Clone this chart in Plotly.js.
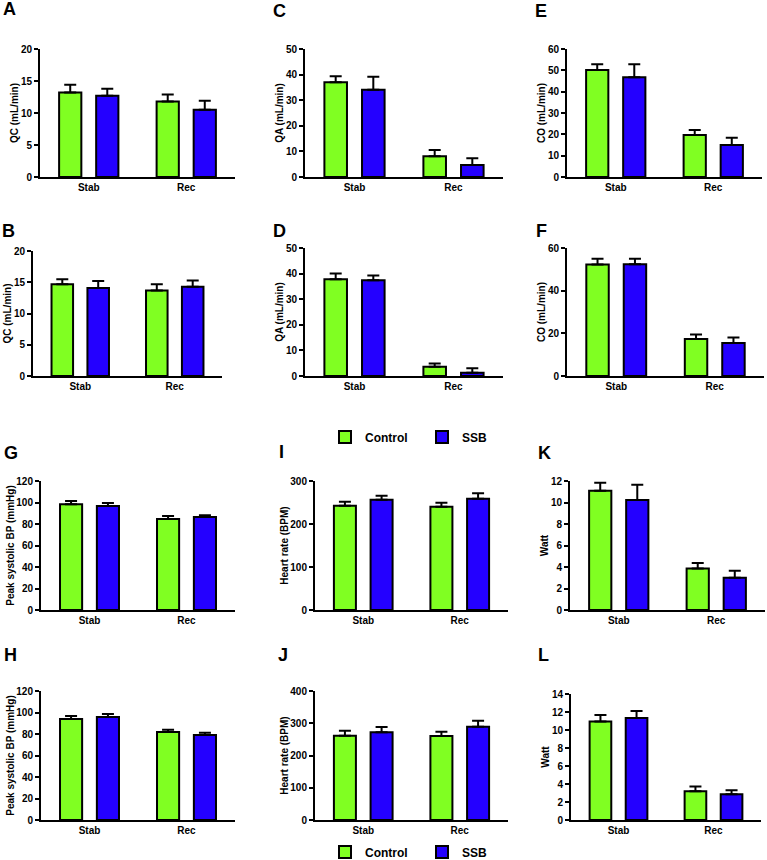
<!DOCTYPE html>
<html>
<head>
<meta charset="utf-8">
<script src="https://cdn.plot.ly/plotly-3.0.1.min.js"></script>
<style>
  body { margin: 0; background: #ffffff; }
  #chart { width: 767px; height: 860px; }
</style>
</head>
<body>
<div id="chart"></div>
<script>
// groups and series
const categories = ["Stab", "Rec"];
const seriesNames = ["Control", "SSB"];

// A / B : QC
const qcA_control = [13.2, 11.8];
const qcA_controlSem = [1.2, 1.1];
const qcA_ssb = [12.7, 10.5];
const qcA_ssbSem = [1.1, 1.4];
const qcB_control = [14.7, 13.7];
const qcB_controlSem = [0.8, 1.0];
const qcB_ssb = [14.1, 14.3];
const qcB_ssbSem = [1.1, 1.0];

// C / D : QA
const qaC_control = [37.0, 8.1];
const qaC_controlSem = [2.4, 2.4];
const qaC_ssb = [34.1, 4.7];
const qaC_ssbSem = [5.1, 2.6];
const qaD_control = [37.8, 3.6];
const qaD_controlSem = [2.2, 1.3];
const qaD_ssb = [37.4, 1.3];
const qaD_ssbSem = [1.9, 1.7];

// E / F : CO
const coE_control = [50.2, 19.7];
const coE_controlSem = [2.6, 2.3];
const coE_ssb = [46.7, 15.0];
const coE_ssbSem = [6.1, 3.4];
const coF_control = [52.3, 17.3];
const coF_controlSem = [2.7, 2.2];
const coF_ssb = [52.4, 15.5];
const coF_ssbSem = [2.6, 2.6];

// G / H : peak systolic BP
const bpG_control = [98.3, 84.7];
const bpG_controlSem = [3.1, 2.7];
const bpG_ssb = [96.7, 86.5];
const bpG_ssbSem = [2.8, 1.6];
const bpH_control = [94.0, 81.9];
const bpH_controlSem = [2.7, 2.1];
const bpH_ssb = [95.8, 79.1];
const bpH_ssbSem = [2.8, 2.1];

// I / J : heart rate
const hrI_control = [242.6, 240.3];
const hrI_controlSem = [9.3, 9.3];
const hrI_ssb = [256.6, 258.9];
const hrI_ssbSem = [9.3, 12.4];
const hrJ_control = [261.5, 260.5];
const hrJ_controlSem = [15.5, 13.4];
const hrJ_ssb = [271.8, 289.4];
const hrJ_ssbSem = [16.6, 18.6];

// K / L : watt
const wK_control = [11.1, 3.85];
const wK_controlSem = [0.74, 0.52];
const wK_ssb = [10.23, 3.0];
const wK_ssbSem = [1.43, 0.66];
const wL_control = [10.95, 3.2];
const wL_controlSem = [0.71, 0.51];
const wL_ssb = [11.33, 2.86];
const wL_ssbSem = [0.77, 0.44];

const W = 767, H = 860;
const GREEN = "#80ff22";
const BLUE = "#2400ff";
const FONT = "Arial, 'Liberation Sans', sans-serif";

const px2x = (p) => p / W;
const px2y = (p) => 1 - p / H;

const traces = [];
const annotations = [];

function legendAt(yPx) {
  return {
    orientation: "h",
    x: px2x(325), y: px2y(yPx),
    xanchor: "left", yanchor: "middle",
    font: { family: FONT, size: 12, weight: "bold" },
    entrywidth: 52, entrywidthmode: "pixels",
    bgcolor: "rgba(0,0,0,0)",
  };
}

const layout = {
  width: W,
  height: H,
  margin: { l: 0, r: 0, t: 0, b: 0, autoexpand: false },
  paper_bgcolor: "#ffffff",
  plot_bgcolor: "#ffffff",
  font: { family: FONT, color: "#000000", size: 10 },
  barmode: "group",
  bargap: 0.24,
  bargroupgap: 0.4,
  showlegend: true,
  legend: legendAt(437),
  legend2: legendAt(852),
  annotations: annotations,
};

let n = 0;
// box = [left, right, top, bottom] in pixels
function addPanel(letter, letterPos, box, control, controlSem, ssb, ssbSem, title, range, dtick, legendName) {
  n += 1;
  const xa = n === 1 ? "x" : "x" + n;
  const ya = n === 1 ? "y" : "y" + n;
  const sets = [
    [seriesNames[0], control, controlSem, GREEN],
    [seriesNames[1], ssb, ssbSem, BLUE],
  ];
  sets.forEach(([name, vals, sem, color]) => {
    traces.push({
      type: "bar",
      name: name,
      x: categories,
      y: vals,
      xaxis: xa,
      yaxis: ya,
      marker: { color: color, line: { color: "#000000", width: 2 } },
      error_y: {
        type: "data",
        symmetric: false,
        array: sem,
        arrayminus: sem.map(() => 0),
        color: "#000000",
        thickness: 2,
        width: 6,
      },
      showlegend: !!legendName,
      legend: legendName || "legend",
      hoverinfo: "skip",
    });
  });

  layout["xaxis" + (n === 1 ? "" : n)] = {
    domain: [px2x(box[0]), px2x(box[1])],
    anchor: ya,
    type: "category",
    range: [-0.5, 1.5],
    showline: true,
    linewidth: 2,
    linecolor: "#000000",
    ticks: "",
    showgrid: false,
    zeroline: false,
    tickfont: { family: FONT, size: 10, weight: "bold" },
    fixedrange: true,
  };
  layout["yaxis" + (n === 1 ? "" : n)] = {
    domain: [px2y(box[3]), px2y(box[2])],
    anchor: xa,
    range: range,
    tick0: 0,
    dtick: dtick,
    showline: true,
    linewidth: 2,
    linecolor: "#000000",
    ticks: "outside",
    ticklen: 4,
    tickwidth: 2,
    tickcolor: "#000000",
    showgrid: false,
    zeroline: false,
    tickfont: { family: FONT, size: 10, weight: "bold" },
    title: { text: title, font: { family: FONT, size: 10, weight: "bold" }, standoff: 0 },
    fixedrange: true,
  };

  annotations.push({
    text: letter,
    xref: "paper", yref: "paper",
    x: px2x(letterPos[0]), y: px2y(letterPos[1]),
    xanchor: "left", yanchor: "middle",
    showarrow: false,
    font: { family: FONT, size: 18, weight: "bold", color: "#000000" },
  });
}

addPanel("A", [1, 9], [40, 235, 49, 177], qcA_control, qcA_controlSem, qcA_ssb, qcA_ssbSem, "QC (mL/min)", [0, 20], 5);
addPanel("C", [271, 11], [305, 503, 49, 177], qaC_control, qaC_controlSem, qaC_ssb, qaC_ssbSem, "QA (mL/min)", [0, 50], 10);
addPanel("E", [533, 11], [567, 762, 49, 177], coE_control, coE_controlSem, coE_ssb, coE_ssbSem, "CO (mL/min)", [0, 60], 10);
addPanel("B", [0, 231], [33, 222, 251, 376], qcB_control, qcB_controlSem, qcB_ssb, qcB_ssbSem, "QC (mL/min)", [0, 20], 5);
addPanel("D", [271, 231], [305, 503, 248, 376], qaD_control, qaD_controlSem, qaD_ssb, qaD_ssbSem, "QA (mL/min)", [0, 50], 10, "legend");
addPanel("F", [534, 231], [567, 764, 248, 376], coF_control, coF_controlSem, coF_ssb, coF_ssbSem, "CO (mL/min)", [0, 60], 20);
addPanel("G", [2, 453], [41, 235, 481, 610], bpG_control, bpG_controlSem, bpG_ssb, bpG_ssbSem, "Peak systolic BP (mmHg)", [0, 120], 20);
addPanel("I", [277, 452], [315, 508, 481, 610], hrI_control, hrI_controlSem, hrI_ssb, hrI_ssbSem, "Heart rate (BPM)", [0, 300], 100);
addPanel("K", [536, 453], [570, 765, 481, 610], wK_control, wK_controlSem, wK_ssb, wK_ssbSem, "Watt", [0, 12], 2);
addPanel("H", [2, 655], [41, 235, 691, 820], bpH_control, bpH_controlSem, bpH_ssb, bpH_ssbSem, "Peak systolic BP (mmHg)", [0, 120], 20);
addPanel("J", [276, 655], [315, 508, 691, 820], hrJ_control, hrJ_controlSem, hrJ_ssb, hrJ_ssbSem, "Heart rate (BPM)", [0, 400], 100, "legend2");
addPanel("L", [536, 655], [571, 761, 694, 820], wL_control, wL_controlSem, wL_ssb, wL_ssbSem, "Watt", [0, 14], 2);

Plotly.newPlot("chart", traces, layout, { displayModeBar: false, staticPlot: true });
</script>
</body>
</html>
